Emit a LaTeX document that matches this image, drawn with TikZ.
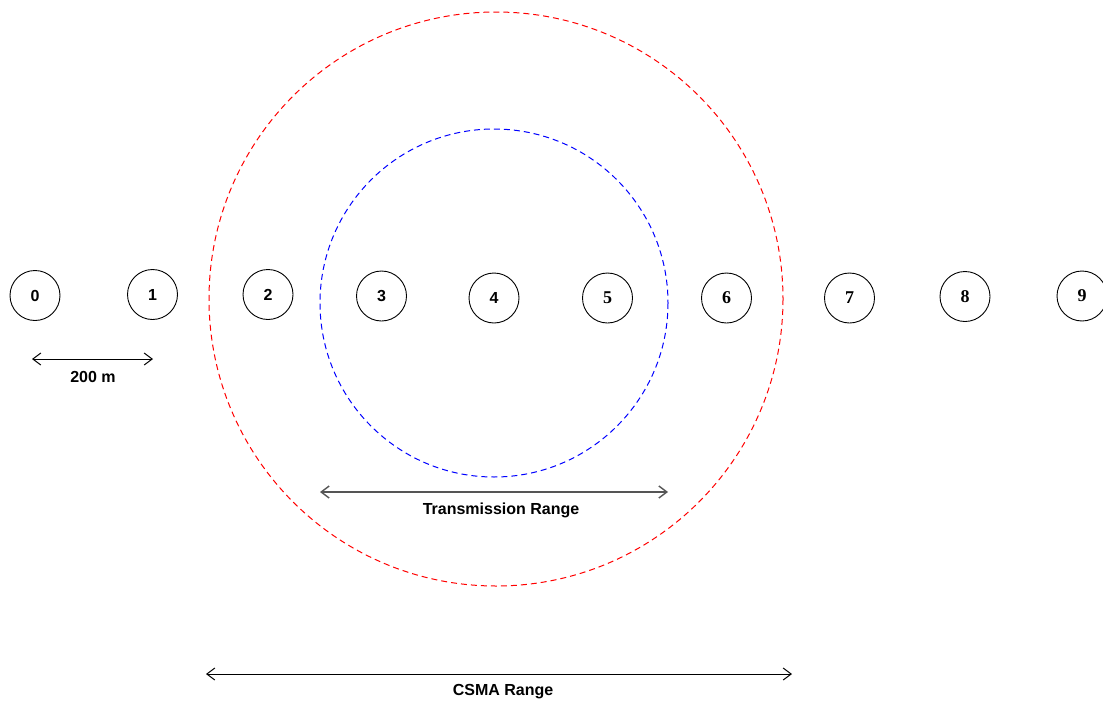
\documentclass[tikz,border=0pt]{standalone}
\usepackage{fontspec}
\setmainfont{Liberation Sans}
\newfontfamily\serifdigits{Liberation Serif}
\usetikzlibrary{arrows.meta}
\definecolor{rangegray}{RGB}{85,85,85}
\tikzset{
  station/.style={circle, draw=black, line width=0.9pt, minimum size=50pt, inner sep=0pt,
    font=\fontsize{16}{16}\selectfont\bfseries},
  serifstation/.style={station, font=\fontsize{18}{18}\selectfont\serifdigits\bfseries},
  rangering/.style={line width=1pt, dash pattern=on 6pt off 4pt},
  span/.style={line width=1pt, {Straight Barb[length=8pt,width=12pt]}-{Straight Barb[length=8pt,width=12pt]}},
  spanlabel/.style={font=\fontsize{16}{16}\selectfont\bfseries, inner sep=0pt}
}
\begin{document}
\begin{tikzpicture}[x=1pt,y=-1pt]
  \useasboundingbox (0,0) rectangle (1103,704);
  \clip (0,0) rectangle (1103,704);

  % carrier-sense and transmission ranges around station 4
  \draw[rangering, red] (496,299) circle[radius=287];
  \draw[rangering, blue] (494,303) circle[radius=174];

  % stations on the line, 200 m apart
  \node[station] (n0) at (35,295.5) {0};
  \node[station] (n1) at (152.5,294.5) {1};
  \node[station] (n2) at (268,294.5) {2};
  \node[station] (n3) at (381.5,296) {3};
  \node[station] (n4) at (494,298) {4};
  \node[serifstation] (n5) at (607.5,298) {5};
  \node[serifstation] (n6) at (726.5,298) {6};
  \node[serifstation] (n7) at (849.5,298) {7};
  \node[serifstation] (n8) at (965,296.5) {8};
  \node[serifstation] (n9) at (1082,296) {9};

  % spacing
  \coordinate (d0) at (32,359);
  \coordinate (d1) at (153,359);
  \draw[span] (d0) -- (d1);
  \node[spanlabel] (dl) at (93,377) {200 m};

  % transmission range
  \coordinate (t0) at (320,492);
  \coordinate (t1) at (668,492);
  \draw[span, rangegray, line width=1.4pt] (t0) -- (t1);
  \node[spanlabel] (tl) at (501,510) {Transmission Range};

  % carrier-sense range
  \coordinate (c0) at (206,674);
  \coordinate (c1) at (792,674);
  \draw[span] (c0) -- (c1);
  \node[spanlabel] (cl) at (503,692) {CSMA Range};
\end{tikzpicture}
\end{document}
